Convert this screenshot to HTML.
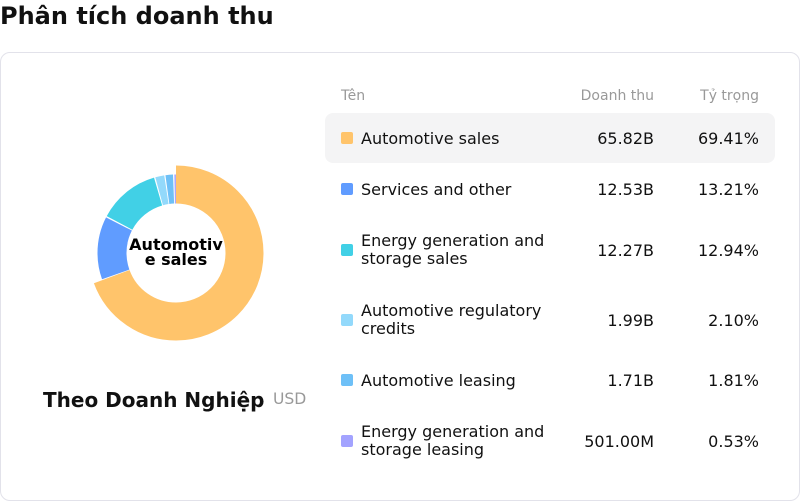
<!DOCTYPE html>
<html><head><meta charset="utf-8"><style>
body{margin:0;width:800px;height:501px;background:#fff;font-family:"DejaVu Sans","Liberation Sans",sans-serif;position:relative;overflow:hidden;color:#111}
.t{position:absolute;white-space:nowrap}
.card{position:absolute;left:0;top:52px;width:798px;height:447px;border:1px solid #e2e2ea;border-radius:10px}
.sq{position:absolute;width:12px;height:12px;border-radius:2px;left:341px}
.r{text-align:right}
.f{font-size:16px}
</style></head><body>
<div class="t" style="left:0;top:2px;font-size:24px;font-weight:bold">Phân tích doanh thu</div>
<div class="card"></div>
<svg style="position:absolute;left:0;top:0" width="800" height="501">
<g transform="rotate(-90 176 253)" fill="none">
<circle cx="176" cy="253" r="68.5" stroke="#FFC46B" stroke-width="38" stroke-dasharray="298.5 1000" stroke-dashoffset="0"/>
<circle cx="176" cy="253" r="64" stroke="#609CFF" stroke-width="29" stroke-dasharray="52 1000" stroke-dashoffset="-279.6"/>
<circle cx="176" cy="253" r="64" stroke="#41D0E6" stroke-width="29" stroke-dasharray="51 1000" stroke-dashoffset="-332.8"/>
<circle cx="176" cy="253" r="64" stroke="#93D9FB" stroke-width="29" stroke-dasharray="7.4 1000" stroke-dashoffset="-384.9"/>
<circle cx="176" cy="253" r="64" stroke="#6EC0F7" stroke-width="29" stroke-dasharray="6.2 1000" stroke-dashoffset="-393.3"/>
<circle cx="176" cy="253" r="64" stroke="#A3A3FF" stroke-width="29" stroke-dasharray="1.3 1000" stroke-dashoffset="-400.6"/>
</g>
<text x="176" y="250" text-anchor="middle" font-size="16" font-weight="bold" font-family="DejaVu Sans">Automotiv</text>
<text x="176" y="265" text-anchor="middle" font-size="16" font-weight="bold" font-family="DejaVu Sans">e sales</text>
</svg>
<div class="t" style="left:43px;top:388px;font-size:20px;font-weight:bold">Theo Doanh Nghiệp</div>
<div class="t" style="left:273px;top:390px;font-size:15.6px;color:#999">USD</div>
<div class="t" style="left:341px;top:88px;font-size:14px;color:#999">Tên</div>
<div class="t r" style="right:146px;top:88px;font-size:14px;color:#999">Doanh thu</div>
<div class="t r" style="right:41px;top:88px;font-size:14px;color:#999">Tỷ trọng</div>
<div style="position:absolute;left:325px;top:113px;width:450px;height:50px;background:#f4f4f5;border-radius:8px"></div>

<div class="sq" style="top:132px;background:#FFC46B"></div>
<div class="t f" style="left:361px;top:129px">Automotive sales</div>
<div class="t r f" style="right:146px;top:129px">65.82B</div>
<div class="t r f" style="right:41px;top:129px">69.41%</div>

<div class="sq" style="top:183px;background:#609CFF"></div>
<div class="t f" style="left:361px;top:180px">Services and other</div>
<div class="t r f" style="right:146px;top:180px">12.53B</div>
<div class="t r f" style="right:41px;top:180px">13.21%</div>

<div class="sq" style="top:244px;background:#41D0E6"></div>
<div class="t f" style="left:361px;top:232px;line-height:18px">Energy generation and<br>storage sales</div>
<div class="t r f" style="right:146px;top:241px">12.27B</div>
<div class="t r f" style="right:41px;top:241px">12.94%</div>

<div class="sq" style="top:314px;background:#93D9FB"></div>
<div class="t f" style="left:361px;top:302px;line-height:18px">Automotive regulatory<br>credits</div>
<div class="t r f" style="right:146px;top:311px">1.99B</div>
<div class="t r f" style="right:41px;top:311px">2.10%</div>

<div class="sq" style="top:374px;background:#6EC0F7"></div>
<div class="t f" style="left:361px;top:371px">Automotive leasing</div>
<div class="t r f" style="right:146px;top:371px">1.71B</div>
<div class="t r f" style="right:41px;top:371px">1.81%</div>

<div class="sq" style="top:435px;background:#A3A3FF"></div>
<div class="t f" style="left:361px;top:423px;line-height:18px">Energy generation and<br>storage leasing</div>
<div class="t r f" style="right:146px;top:432px">501.00M</div>
<div class="t r f" style="right:41px;top:432px">0.53%</div>
</body></html>
